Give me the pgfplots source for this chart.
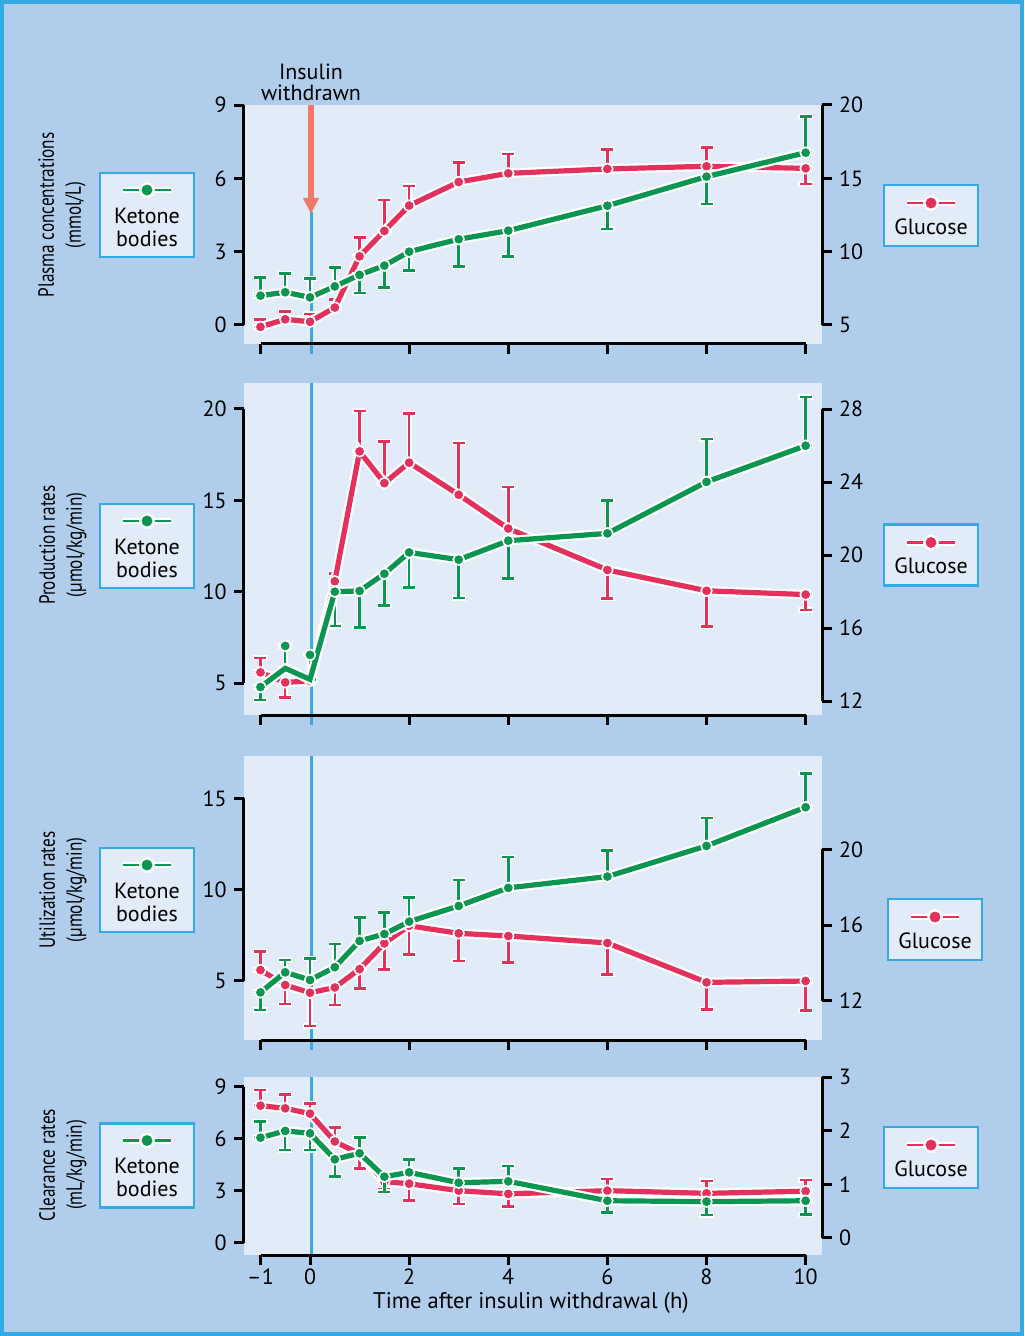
\documentclass[border=0pt]{standalone}
\usepackage{pgfplots}
\pgfplotsset{compat=1.18}
\usepackage{pgfplotstable}
\usepackage{graphicx}
\usepackage{fontspec}
\setmainfont{PT Sans}
\usetikzlibrary{arrows.meta}

\definecolor{bgblue}{HTML}{B0CEEC}
\definecolor{panelbg}{HTML}{E2EBF8}
\definecolor{bcyan}{HTML}{33AAE4}
\definecolor{kgreen}{HTML}{0A9650}
\definecolor{gred}{HTML}{E3305C}
\definecolor{vblue}{HTML}{3BA8DF}
\definecolor{salmon}{HTML}{F07A68}

\newcommand\tfont{\fontsize{11}{13}\selectfont}

% ---------------- data ----------------
\pgfplotstableread{
x y ep em
-1 1.20 0.75 0
-0.5 1.34 0.77 0
0 1.13 0.77 0
0.5 1.58 0.78 0
1 2.05 0 0.75
1.5 2.43 0 0.89
2 3.00 0 0.78
3 3.51 0 1.12
4 3.86 0 1.06
6 4.88 0 0.95
8 6.07 0 1.12
10 7.05 1.48 0
}\kAone
\pgfplotstableread{
x y ep em
-1 4.87 0.52 0
-0.5 5.39 0.52 0
0 5.22 0.53 0
0.5 6.19 0.54 0
1 9.68 1.30 0
1.5 11.41 2.11 0
2 13.14 1.34 0
3 14.75 1.32 0
4 15.34 1.32 0
6 15.64 1.34 0
8 15.82 1.29 0
10 15.68 0 1.07
}\gBone
\pgfplotstableread{
x y ep em
-1 4.78 0 0.71
-0.5 7.03 0 1.23
0 6.54 0 1.34
0.5 10.00 0 1.88
1 10.04 0 2.01
1.5 10.98 0 1.75
2 12.15 0 1.92
3 11.75 0 2.10
4 12.79 0 2.08
6 13.19 1.81 0
8 16.01 2.34 0
10 17.99 2.67 0
}\kAtwo
\pgfplotstableread{
x y
-1 4.78
-0.5 5.80
0 5.20
0.5 10.00
1 10.04
1.5 10.98
2 12.15
3 11.75
4 12.79
6 13.19
8 16.01
10 17.99
}\kAtwoline
\pgfplotstableread{
x y ep em
-1 13.57 0.80 0
-0.5 13.02 0 0.82
0 13.10 0 0
0.5 18.56 0.44 0
1 25.68 2.21 0
1.5 23.94 2.29 0
2 25.06 2.68 0
3 23.30 2.84 0
4 21.45 2.27 0
6 19.18 0 1.57
8 18.04 0 1.96
10 17.83 0 0.84
}\gBtwo
\pgfplotstableread{
x y ep em
-1 4.36 0 0.97
-0.5 5.46 0.67 0
0 5.04 1.19 0
0.5 5.74 1.26 0
1 7.18 1.28 0
1.5 7.56 1.18 0
2 8.24 1.32 0
3 9.10 1.43 0
4 10.09 1.68 0
6 10.71 1.43 0
8 12.39 1.52 0
10 14.51 1.86 0
}\kAthree
\pgfplotstableread{
x y ep em
-1 13.62 0.97 0
-0.5 12.83 0 1.01
0 12.42 0 1.76
0.5 12.70 0 0.93
1 13.67 0 1.02
1.5 15.03 0 1.37
2 15.96 0 1.51
3 15.56 0 1.45
4 15.42 0 1.39
6 15.05 0 1.66
8 12.97 0 1.43
10 13.04 0 1.57
}\gBthree
\pgfplotstableread{
x y ep em
-1 6.06 0.92 0
-0.5 6.45 0 1.10
0 6.31 0 0.96
0.5 4.81 0 1.00
1 5.16 0.92 0
1.5 3.81 0 0.87
2 4.06 0.75 0
3 3.46 0.83 0
4 3.54 0.88 0
6 2.42 0 0.69
8 2.37 0 0.77
10 2.42 0 0.79
}\kAfour
\pgfplotstableread{
x y ep em
-1 2.47 0.29 0
-0.5 2.42 0.26 0
0 2.32 0.19 0
0.5 1.80 0.26 0
1 1.57 0 0.28
1.5 1.05 0 0.15
2 1.01 0 0.31
3 0.88 0 0.25
4 0.82 0 0.24
6 0.88 0.22 0
8 0.83 0.23 0
10 0.87 0.21 0
}\gBfour

% ---------------- legend glyphs ----------------
\newcommand\ketoneLegend{%
  \draw[draw=bcyan, fill=panelbg, line width=1.4pt] (-23.5pt,-21pt) rectangle (23.5pt,21pt);
  \draw[white, line width=3pt] (-12pt,12.5pt) -- (12pt,12.5pt);
  \draw[kgreen, line width=1.4pt] (-12pt,12.5pt) -- (12pt,12.5pt);
  \fill[white] (0pt,12.5pt) circle (3.7pt);
  \fill[kgreen] (0pt,12.5pt) circle (2.5pt);
  \node[anchor=center, align=center, inner sep=0pt, font=\fontsize{11}{11.5}\selectfont] at (0pt,-6.75pt) {Ketone\\bodies};
}
\newcommand\glucoseLegend{%
  \draw[draw=bcyan, fill=panelbg, line width=1.4pt] (-23.5pt,-15.25pt) rectangle (23.5pt,15.25pt);
  \draw[white, line width=3pt] (-12pt,6.25pt) -- (12pt,6.25pt);
  \draw[gred, line width=1.4pt] (-12pt,6.25pt) -- (12pt,6.25pt);
  \fill[white] (0pt,6.25pt) circle (3.7pt);
  \fill[gred] (0pt,6.25pt) circle (2.5pt);
  \node[anchor=center, align=center, inner sep=0pt, font=\fontsize{11}{11.5}\selectfont] at (0pt,-6.25pt) {Glucose};
}

\pgfplotsset{
  base/.style={scale only axis, width=289.2pt, xmin=-1.34, xmax=10.33,
    enlargelimits=false, clip=false, anchor=south west,
    axis x line=none, xtick=\empty,
    axis line style={line width=1.5pt, black, -},
    tick style={black, line width=1.5pt},
    major tick length=5pt, tick align=outside,
    tick label style={font=\tfont},
    /pgf/number format/assume math mode=true,
    legend style={anchor=center, draw=none, fill=none, inner sep=0pt, outer sep=0pt,
      column sep=0pt, row sep=0pt, nodes={inner sep=0pt, outer sep=0pt}},
  },
  leftax/.style={base, axis y line*=left},
  rightax/.style={base, axis y line*=right},
  xax/.style={scale only axis, width=272.5pt, height=10pt, xmin=-1, xmax=10,
    ymin=0, ymax=1, anchor=south west, axis y line=none, axis x line*=bottom,
    axis line style={line width=1.5pt, black, -},
    tick style={black, line width=1.5pt},
    major tick length=5pt, tick align=outside,
    tick label style={font=\tfont},
    /pgf/number format/assume math mode=true,
    xtick={-1,2,4,6,8,10}, xticklabels={,,,,,}},
  errw/.style={forget plot, only marks, mark=*, mark size=0pt,
    error bars/.cd, y dir=both, y explicit, error mark=|,
    error bar style={draw=white, line width=2.6pt},
    error mark options={draw=white, line width=2.6pt, mark size=3.6pt}},
  errc/.style={forget plot, only marks, mark=*, mark size=0pt,
    error bars/.cd, y dir=both, y explicit, error mark=|,
    error bar style={draw=#1, line width=1.25pt},
    error mark options={draw=#1, line width=1.25pt, mark size=3pt}},
  halo/.style={forget plot, draw=white, line width=4.8pt, mark=none},
  ser/.style={forget plot, draw=#1, line width=2.6pt, mark=none},
  pts/.style={forget plot, only marks, mark=*, mark size=2.7pt,
    mark options={fill=#1, draw=white, line width=0.8pt}},
}

\newcommand\series[2]{%
  \addplot[errw] table[x=x,y=y,y error plus=ep,y error minus=em]{#1};
  \addplot[errc=#2] table[x=x,y=y,y error plus=ep,y error minus=em]{#1};
  \addplot[halo] table[x=x,y=y]{#1};
  \addplot[ser=#2] table[x=x,y=y]{#1};
  \addplot[pts=#2] table[x=x,y=y]{#1};
}

\begin{document}
\begin{tikzpicture}
\useasboundingbox (0pt,0pt) rectangle (512pt,-668pt);
\begin{scope}[x=0.5pt, y=-0.5pt]
  \fill[bgblue] (0,0) rectangle (1024,1336);
  \draw[bcyan, line width=2pt] (2,2) rectangle (1022,1334);
  \fill[panelbg] (243.6,105) rectangle (822,344);
  \fill[panelbg] (243.6,383) rectangle (822,715);
  \fill[panelbg] (243.6,756) rectangle (822,1040);
  \fill[panelbg] (243.6,1077) rectangle (822,1255);
  \draw[vblue, line width=1.5pt] (311,212) -- (311,354);
  \draw[vblue, line width=1.5pt] (311,383) -- (311,725);
  \draw[vblue, line width=1.5pt] (311,756) -- (311,1050);
  \draw[vblue, line width=1.5pt] (311,1077) -- (311,1255);
  \draw[salmon, line width=2.6pt, -{Triangle[width=7.5pt,length=8pt]}] (311,105) -- (311,214);
  \node[align=center, font=\fontsize{11}{10.5}\selectfont] at (311,82) {Insulin\\withdrawn};
  \node[rotate=90, align=center, font=\fontsize{11}{13.5}\selectfont] at (62,215)
    {\scalebox{0.78}[1]{Plasma concentrations}\\\scalebox{0.78}[1]{(mmol/L)}};
  \node[rotate=90, align=center, font=\fontsize{11}{13.5}\selectfont] at (63,545)
    {\scalebox{0.78}[1]{Production rates}\\\scalebox{0.78}[1]{(µmol/kg/min)}};
  \node[rotate=90, align=center, font=\fontsize{11}{13.5}\selectfont] at (63,890)
    {\scalebox{0.78}[1]{Utilization rates}\\\scalebox{0.78}[1]{(µmol/kg/min)}};
  \node[rotate=90, align=center, font=\fontsize{11}{13.5}\selectfont] at (63,1165)
    {\scalebox{0.78}[1]{Clearance rates}\\\scalebox{0.78}[1]{(mL/kg/min)}};
  \node[font=\fontsize{11.3}{13}\selectfont] at (531,1303) {Time after insulin withdrawal (h)};
\end{scope}

% ===== Panel 1 =====
\begin{axis}[rightax, at={(121.8pt,-162.5pt)}, height=110pt, ymin=5, ymax=20, ytick={5,10,15,20},
  legend style={at={(1.19018,0.4977)}}]
\addlegendimage{legend image code/.code={\glucoseLegend}}
\addlegendentry{\hbox{}}
\series{\gBone}{gred}
\end{axis}
\begin{axis}[leftax, at={(121.8pt,-162.5pt)}, height=110pt, ymin=0, ymax=9, ytick={0,3,6,9},
  legend style={at={(-0.16528,0.5)}}]
\addlegendimage{legend image code/.code={\ketoneLegend}}
\addlegendentry{\hbox{}}
\series{\kAone}{kgreen}
\end{axis}
\begin{axis}[xax, at={(130.25pt,-172pt)}]
\end{axis}

% ===== Panel 2 =====
\begin{axis}[rightax, at={(121.8pt,-350.5pt)}, height=146pt, ymin=12, ymax=28, ytick={12,16,20,24,28},
  legend style={at={(1.19018,0.5)}}]
\addlegendimage{legend image code/.code={\glucoseLegend}}
\addlegendentry{\hbox{}}
\series{\gBtwo}{gred}
\end{axis}
\begin{axis}[leftax, at={(121.8pt,-341.5pt)}, height=137pt, ymin=5, ymax=20, ytick={5,10,15,20},
  legend style={at={(-0.16528,0.5)}}]
\addlegendimage{legend image code/.code={\ketoneLegend}}
\addlegendentry{\hbox{}}
\addplot[errw] table[x=x,y=y,y error plus=ep,y error minus=em]{\kAtwo};
\addplot[errc=kgreen] table[x=x,y=y,y error plus=ep,y error minus=em]{\kAtwo};
\addplot[halo] table[x=x,y=y]{\kAtwoline};
\addplot[ser=kgreen] table[x=x,y=y]{\kAtwoline};
\addplot[pts=kgreen] table[x=x,y=y]{\kAtwo};
\end{axis}
\begin{axis}[xax, at={(130.25pt,-357.5pt)}]
\end{axis}

% ===== Panel 3 =====
\begin{axis}[rightax, at={(121.8pt,-500.35pt)}, height=75.7pt, ymin=12, ymax=20, ytick={12,16,20},
  legend style={at={(1.1971,0.4703)}}]
\addlegendimage{legend image code/.code={\glucoseLegend}}
\addlegendentry{\hbox{}}
\series{\gBthree}{gred}
\end{axis}
\begin{axis}[leftax, at={(121.8pt,-490.35pt)}, height=91.2pt, ymin=5, ymax=15, ytick={5,10,15},
  legend style={at={(-0.16528,0.4973)}}]
\addlegendimage{legend image code/.code={\ketoneLegend}}
\addlegendentry{\hbox{}}
\series{\kAthree}{kgreen}
\end{axis}
\begin{axis}[xax, at={(130.25pt,-520pt)}]
\end{axis}

% ===== Panel 4 =====
\begin{axis}[rightax, at={(121.8pt,-618.85pt)}, height=80.2pt, ymin=0, ymax=3, ytick={0,1,2,3},
  legend style={at={(1.19018,0.5)}}]
\addlegendimage{legend image code/.code={\glucoseLegend}}
\addlegendentry{\hbox{}}
\series{\gBfour}{gred}
\end{axis}
\begin{axis}[leftax, at={(121.8pt,-621.35pt)}, height=78pt, ymin=0, ymax=9, ytick={0,3,6,9},
  legend style={at={(-0.16528,0.4949)}}]
\addlegendimage{legend image code/.code={\ketoneLegend}}
\addlegendentry{\hbox{}}
\series{\kAfour}{kgreen}
\end{axis}
\begin{axis}[xax, at={(130.25pt,-627.5pt)}, xtick={-1,0,2,4,6,8,10},
  xticklabels={--1,0,2,4,6,8,10}, xticklabel style={yshift=1.5pt}]
\end{axis}
\end{tikzpicture}
\end{document}
